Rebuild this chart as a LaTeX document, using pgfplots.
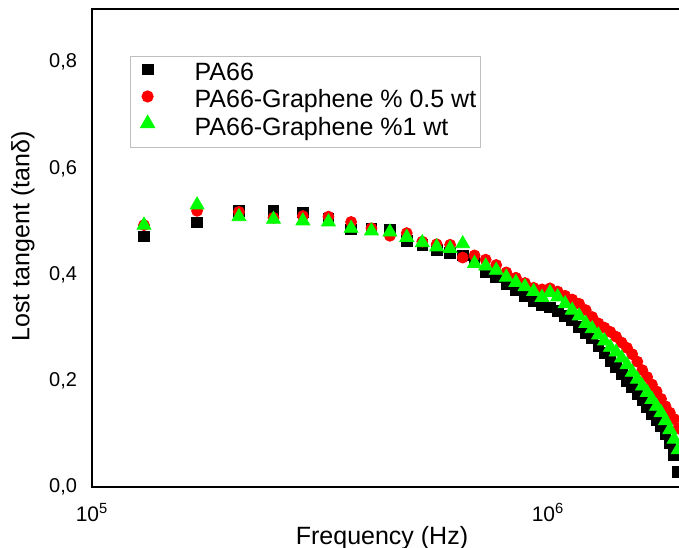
\documentclass[border=0pt]{standalone}
\usepackage{fontspec}
\setmainfont{Liberation Sans}
\usepackage{pgfplots}
\pgfplotsset{compat=1.18}
\usepackage{pgfplotstable}

\pgfplotstableread{
f v
130000 0.472
170000 0.498
210000 0.520
250000 0.520
290000 0.517
330000 0.505
370000 0.485
410000 0.487
450000 0.485
490000 0.463
530000 0.456
570000 0.447
610000 0.441
650000 0.436
690000 0.425
730000 0.404
770000 0.395
810000 0.383
850000 0.370
890000 0.360
930000 0.350
970000 0.342
1010000 0.338
1050000 0.332
1090000 0.322
1130000 0.314
1170000 0.302
1210000 0.290
1250000 0.280
1290000 0.266
1330000 0.252
1370000 0.238
1410000 0.226
1450000 0.213
1490000 0.200
1530000 0.188
1570000 0.175
1610000 0.163
1650000 0.150
1690000 0.138
1730000 0.126
1770000 0.114
1810000 0.100
1850000 0.082
1890000 0.060
1930000 0.028
}\pasixsix

\pgfplotstableread{
f v
130000 0.493
170000 0.520
210000 0.518
250000 0.507
290000 0.510
330000 0.509
370000 0.499
410000 0.487
450000 0.473
490000 0.478
530000 0.462
570000 0.457
610000 0.456
650000 0.432
690000 0.436
730000 0.428
770000 0.418
810000 0.404
850000 0.394
890000 0.384
930000 0.375
970000 0.372
1010000 0.374
1050000 0.368
1090000 0.360
1130000 0.353
1170000 0.345
1210000 0.333
1250000 0.320
1290000 0.308
1330000 0.300
1370000 0.292
1410000 0.283
1450000 0.272
1490000 0.262
1530000 0.250
1570000 0.236
1610000 0.220
1650000 0.207
1690000 0.193
1730000 0.180
1770000 0.166
1810000 0.152
1850000 0.140
1890000 0.128
1930000 0.110
}\grhalf

\pgfplotstableread{
f v
130000 0.493
170000 0.531
210000 0.509
250000 0.504
290000 0.501
330000 0.499
370000 0.487
410000 0.482
450000 0.480
490000 0.470
530000 0.460
570000 0.452
610000 0.449
650000 0.458
690000 0.421
730000 0.416
770000 0.408
810000 0.395
850000 0.385
890000 0.377
930000 0.368
970000 0.357
1010000 0.366
1050000 0.358
1090000 0.345
1130000 0.333
1170000 0.322
1210000 0.308
1250000 0.298
1290000 0.286
1330000 0.275
1370000 0.263
1410000 0.254
1450000 0.243
1490000 0.230
1530000 0.216
1570000 0.203
1610000 0.190
1650000 0.178
1690000 0.165
1730000 0.152
1770000 0.140
1810000 0.125
1850000 0.108
1890000 0.090
1930000 0.070
}\grone

\begin{document}
\begin{tikzpicture}
\begin{axis}[
  scale only axis,
  width=293.5pt, height=239pt,
  xmode=log,
  xmin=100000, xmax=1938000,
  ymin=0, ymax=0.9,
  axis line style={draw=none},
  major tick length=0pt, minor tick length=0pt,
  xtick={100000,1000000},
  xticklabels={10\textsuperscript{5},10\textsuperscript{6}},
  ytick={0,0.2,0.4,0.6,0.8},
  yticklabels={{0,0},{0,2},{0,4},{0,6},{0,8}},
  xticklabel style={font=\fontsize{10.5}{12}\selectfont, yshift=-4.5pt},
  yticklabel style={font=\fontsize{10}{12}\selectfont, xshift=-4pt},
  xlabel={Frequency (Hz)},
  ylabel={Lost tangent (tanδ)},
  xlabel style={font=\fontsize{12.5}{15}\selectfont, at={(axis description cs:0.494,0)}, anchor=north, yshift=-16.2pt},
  ylabel style={font=\fontsize{12.5}{15}\selectfont, at={(axis description cs:-0.086,0.524)}, anchor=south, rotate=0},
  clip marker paths=true,
  legend cell align=left,
  legend style={at={(axis description cs:0.0647,0.9017)}, anchor=north west,
    draw=gray!50, line width=0.6pt, inner xsep=0pt, inner ysep=2.5pt,
    column sep=0pt, row sep=0pt,
    nodes={inner xsep=2pt, inner ysep=1.1pt, text height=8.6pt, text depth=2.7pt},
    font=\fontsize{12.5}{14.25}\selectfont},
  legend image code/.code={\path[draw=none] (0pt,0pt) -- (30pt,0pt); \draw[#1] plot coordinates {(8.5pt,2.8pt)};},
]
\addplot[only marks, mark=square*, mark size=2.67pt, color=black] table[x=f,y=v] {\pasixsix};
\addlegendentry{PA66}
\addplot[only marks, mark=*, mark size=2.75pt, color=red] table[x=f,y=v] {\grhalf};
\addlegendentry{PA66-Graphene \% 0.5 wt}
\addplot[only marks, mark=triangle*, mark size=4pt, color=green] table[x=f,y=v] {\grone};
\addlegendentry{PA66-Graphene \%1 wt}
\end{axis}
\draw[line width=1.1pt, line cap=rect] (current axis.north east) -- (current axis.north west) -- (current axis.south west) -- (current axis.south east);
\pgfresetboundingbox
\useasboundingbox ([xshift=-46pt,yshift=-30.5pt]current axis.south west) rectangle ([yshift=4.5pt]current axis.north east);
\end{tikzpicture}
\end{document}
